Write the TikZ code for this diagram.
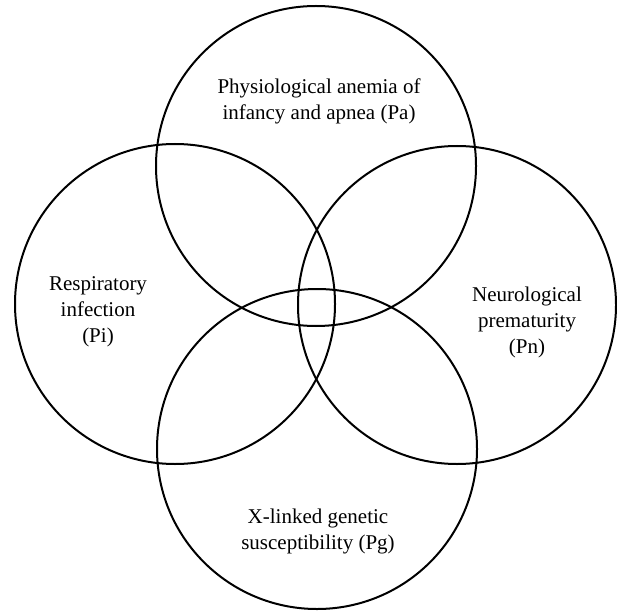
\documentclass[tikz,border=0pt]{standalone}
\usepackage{fontspec}
\setmainfont{Liberation Serif}
\begin{document}
\begin{tikzpicture}[x = 1pt, y = 1pt, line width = 2pt]
		\useasboundingbox (0, 0) rectangle (617, 611);
		
		\draw (316, 445) circle [radius = 160];
		\draw (175, 307) circle [radius = 160];
		\draw (457, 306) circle [radius = 159];
		\draw (317, 162) circle [radius = 160];
		
		\node [align = center, font = \fontsize{21}{26}\selectfont] (pa) at (319, 510) {Physiological anemia of\\infancy and apnea (Pa)};
		\node [align = center, font = \fontsize{21}{26}\selectfont] (pi) at (98, 299) {Respiratory\\infection\\(Pi)};
		\node [align = center, font = \fontsize{21}{26}\selectfont] (pn) at (527, 289) {Neurological\\prematurity\\(Pn)};
		\node [align = center, font = \fontsize{21}{26}\selectfont] (pg) at (318, 80) {X-linked genetic\\susceptibility (Pg)};
		\end{tikzpicture}
\end{document}
